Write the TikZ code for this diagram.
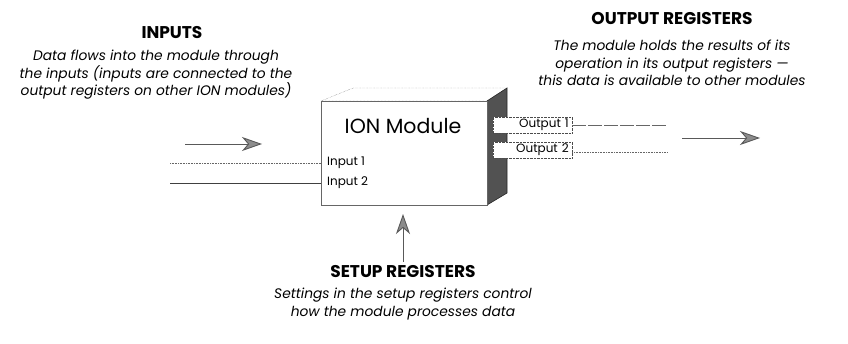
\documentclass[tikz,border=0pt]{standalone}
\usepackage{fontspec}
\setmainfont{Poppins}
\usetikzlibrary{arrows.meta}
\begin{document}
\begin{tikzpicture}[x=1pt,y=-1pt,
  title/.style={font=\bfseries\fontsize{17}{19}\selectfont},
  desc/.style={font=\itshape\fontsize{13.8}{17.5}\selectfont, align=center},
  small/.style={font=\fontsize{12}{13}\selectfont},
  flow/.style={draw=black!65, line width=0.9pt,
    -{Stealth[length=20pt,width=14pt,inset=6pt,fill=black!45,color=black!65]}},
  portline/.style={draw=black!60, line width=0.6pt},
]
\useasboundingbox (0,0) rectangle (848,344);

% box geometry
\coordinate (ftl) at (321,101);
\coordinate (ftr) at (487,101);
\coordinate (fbr) at (487,205);
\coordinate (btl) at (353,88);
\coordinate (btr) at (507,88);
\coordinate (bbr) at (507,193);

\draw[black!60, densely dotted, fill=white] (ftl) -- (btl) -- (btr) -- (ftr) -- cycle;
\fill[black!68] (ftr) -- (btr) -- (bbr) -- (fbr) -- cycle;
\draw[black!85, line width=0.6pt] (ftr) -- (btr) -- (bbr) -- (fbr);

\node[draw=black!60, fill=white, line width=0.6pt, minimum width=166pt, minimum height=104pt,
  inner sep=0pt, anchor=north west] (module) at (ftl) {};
\node[font=\fontsize{20.5}{22}\selectfont] (modname) at (403,126) {ION Module};

% inputs
\node[small, anchor=west, inner sep=1pt] (in1) at (326,163) {Input 1};
\node[small, anchor=west, inner sep=1pt] (in2) at (326,183) {Input 2};
\coordinate (i1s) at (170,163);
\coordinate (i2s) at (170,183);
\draw[portline, densely dotted] (i1s) -- (i1s -| module.west);
\draw[portline, black!75] (i2s) -- (i2s -| module.west);

% outputs
\node[small, draw=black!70, densely dotted, fill=white, anchor=west, text width=72pt,
  align=right, inner xsep=3.5pt, inner ysep=2pt, minimum height=16pt] (out1) at (493,125) {Output 1};
\node[small, draw=black!70, densely dotted, fill=white, anchor=west, text width=72pt,
  align=right, inner xsep=3.5pt, inner ysep=2pt, minimum height=16pt] (out2) at (493,150) {Output 2};
\coordinate (o1e) at (668,125);
\coordinate (o2e) at (668,152);
\draw[portline, dashed, dash pattern=on 14pt off 2pt] (out1.east) -- (o1e);
\draw[portline, densely dotted] (out2.east |- o2e) -- (o2e);

% flow arrows
\coordinate (ia1) at (185,144);
\coordinate (ia2) at (262,144);
\draw[flow] (ia1) -- (ia2);
\coordinate (oa1) at (682,138);
\coordinate (oa2) at (760,138);
\draw[flow] (oa1) -- (oa2);
\coordinate (sa1) at (403,262);
\coordinate (sa2) at (403,214);
\draw[flow] (sa1) -- (sa2);

% texts
\node[title] (inT) at (172,33) {INPUTS};
\node[desc] (inD) at (156,75) {Data flows into the module through\\the inputs (inputs are connected to the\\output registers on other ION modules)};
\node[title] (outT) at (672,19) {OUTPUT REGISTERS};
\node[desc] (outD) at (672,63) {The module holds the results of its\\operation in its output registers ---\\this data is available to other modules};
\node[title] (setT) at (403,272) {SETUP REGISTERS};
\node[desc] (setD) at (403,304) {Settings in the setup registers control\\how the module processes data};
\end{tikzpicture}
\end{document}
